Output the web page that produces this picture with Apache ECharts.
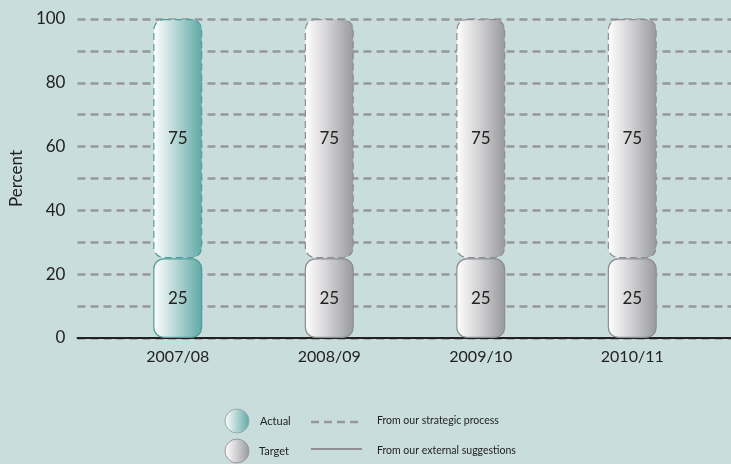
<!DOCTYPE html>
<html><head><meta charset="utf-8">
<script src="https://cdn.jsdelivr.net/npm/echarts@6/dist/echarts.min.js"></script>
<style>html,body{margin:0;padding:0;background:#c9dedc;}#c{width:731px;height:464px;}</style>
</head><body><div id="c"></div>
<script>
const categories = ['2007/08', '2008/09', '2009/10', '2010/11'];
const actualExternal = [25, null, null, null];
const actualStrategic = [75, null, null, null];
const targetExternal = [null, 25, 25, 25];
const targetStrategic = [null, 75, 75, 75];
const yTicks = [0, 20, 40, 60, 80, 100];

const FONT = 'Lato';
function gradT(){
  return new echarts.graphic.LinearGradient(0,0,1,0,[
    {offset:0,color:'#ffffff'},{offset:0.45,color:'#b8d8d6'},{offset:1,color:'#5ea9a6'}]);
}
function gradG(){
  return new echarts.graphic.LinearGradient(0,0,1,0,[
    {offset:0,color:'#ffffff'},{offset:0.45,color:'#d4d4d6'},{offset:1,color:'#98999c'}]);
}
const chart = echarts.init(document.getElementById('c'), null, {renderer:'canvas'});
const lbl = {show:true, position:'inside', color:'#222', fontSize:17, fontFamily:FONT};
function seg(name, data, fill, border, dashed){
  return {
    name, type:'bar', xAxisIndex:1, yAxisIndex:1, stack:'s', data,
    barWidth:49,
    itemStyle:{color:fill, borderColor:border, borderWidth:1.2, borderRadius:10,
      borderType: dashed ? [7,4] : 'solid'},
    label:lbl
  };
}
chart.setOption({
  backgroundColor:'#c9dedc',
  animation:false,
  grid:[
    {left:70, right:0, top:19, bottom:126},
    {left:102, right:23, top:19, bottom:126}
  ],
  xAxis:[
    {gridIndex:0, type:'value', min:0, max:1, axisLabel:{show:false}, axisTick:{show:false},
      splitLine:{show:false}, axisLine:{show:true, onZero:false, lineStyle:{color:'#222', width:2}}},
    {gridIndex:1, type:'category', data:categories, axisLine:{show:false}, axisTick:{show:false},
      axisLabel:{color:'#222', fontSize:16, fontFamily:FONT, margin:11}}
  ],
  yAxis:[
    {gridIndex:0, type:'value', min:0, max:100, interval:10,
      name:'Percent', nameLocation:'middle', nameGap:44, nameRotate:90,
      nameTextStyle:{color:'#222', fontSize:17, fontFamily:FONT},
      axisLine:{show:false}, axisTick:{show:false},
      axisLabel:{color:'#222', fontSize:17, fontFamily:FONT, margin:12,
        formatter:v => yTicks.includes(v) ? String(v) : ''},
      splitLine:{show:true, lineStyle:{color:'#979899', width:2.5, type:[8,5]}}},
    {gridIndex:1, type:'value', min:0, max:100, show:false, splitLine:{show:false}}
  ],
  series:[
    seg('Actual external', actualExternal, gradT(), '#4f9e9b', false),
    seg('Actual strategic', actualStrategic, gradT(), '#4f9e9b', true),
    seg('Target external', targetExternal, gradG(), '#8c8d90', false),
    seg('Target strategic', targetStrategic, gradG(), '#8c8d90', true)
  ],
  graphic:[
    {type:'circle', shape:{cx:237, cy:421, r:12}, style:{fill:gradT(), stroke:'#99aaaa', lineWidth:1}},
    {type:'circle', shape:{cx:237, cy:451, r:12}, style:{fill:gradG(), stroke:'#999', lineWidth:1}},
    {type:'text', style:{x:260, y:421, text:'Actual', fill:'#222', font:'11px Lato', verticalAlign:'middle'}},
    {type:'text', style:{x:259, y:451, text:'Target', fill:'#222', font:'11px Lato', verticalAlign:'middle'}},
    {type:'line', shape:{x1:311, y1:422, x2:358, y2:422}, style:{stroke:'#979899', lineWidth:2.5, lineDash:[8,5]}},
    {type:'line', shape:{x1:311, y1:449, x2:362, y2:449}, style:{stroke:'#8f9091', lineWidth:2}},
    {type:'text', style:{x:377, y:421, text:'From our strategic process', fill:'#222', font:'10.5px Lato', verticalAlign:'middle'}},
    {type:'text', style:{x:377, y:451, text:'From our external suggestions', fill:'#222', font:'10.5px Lato', verticalAlign:'middle'}}
  ]
});
</script></body></html>
